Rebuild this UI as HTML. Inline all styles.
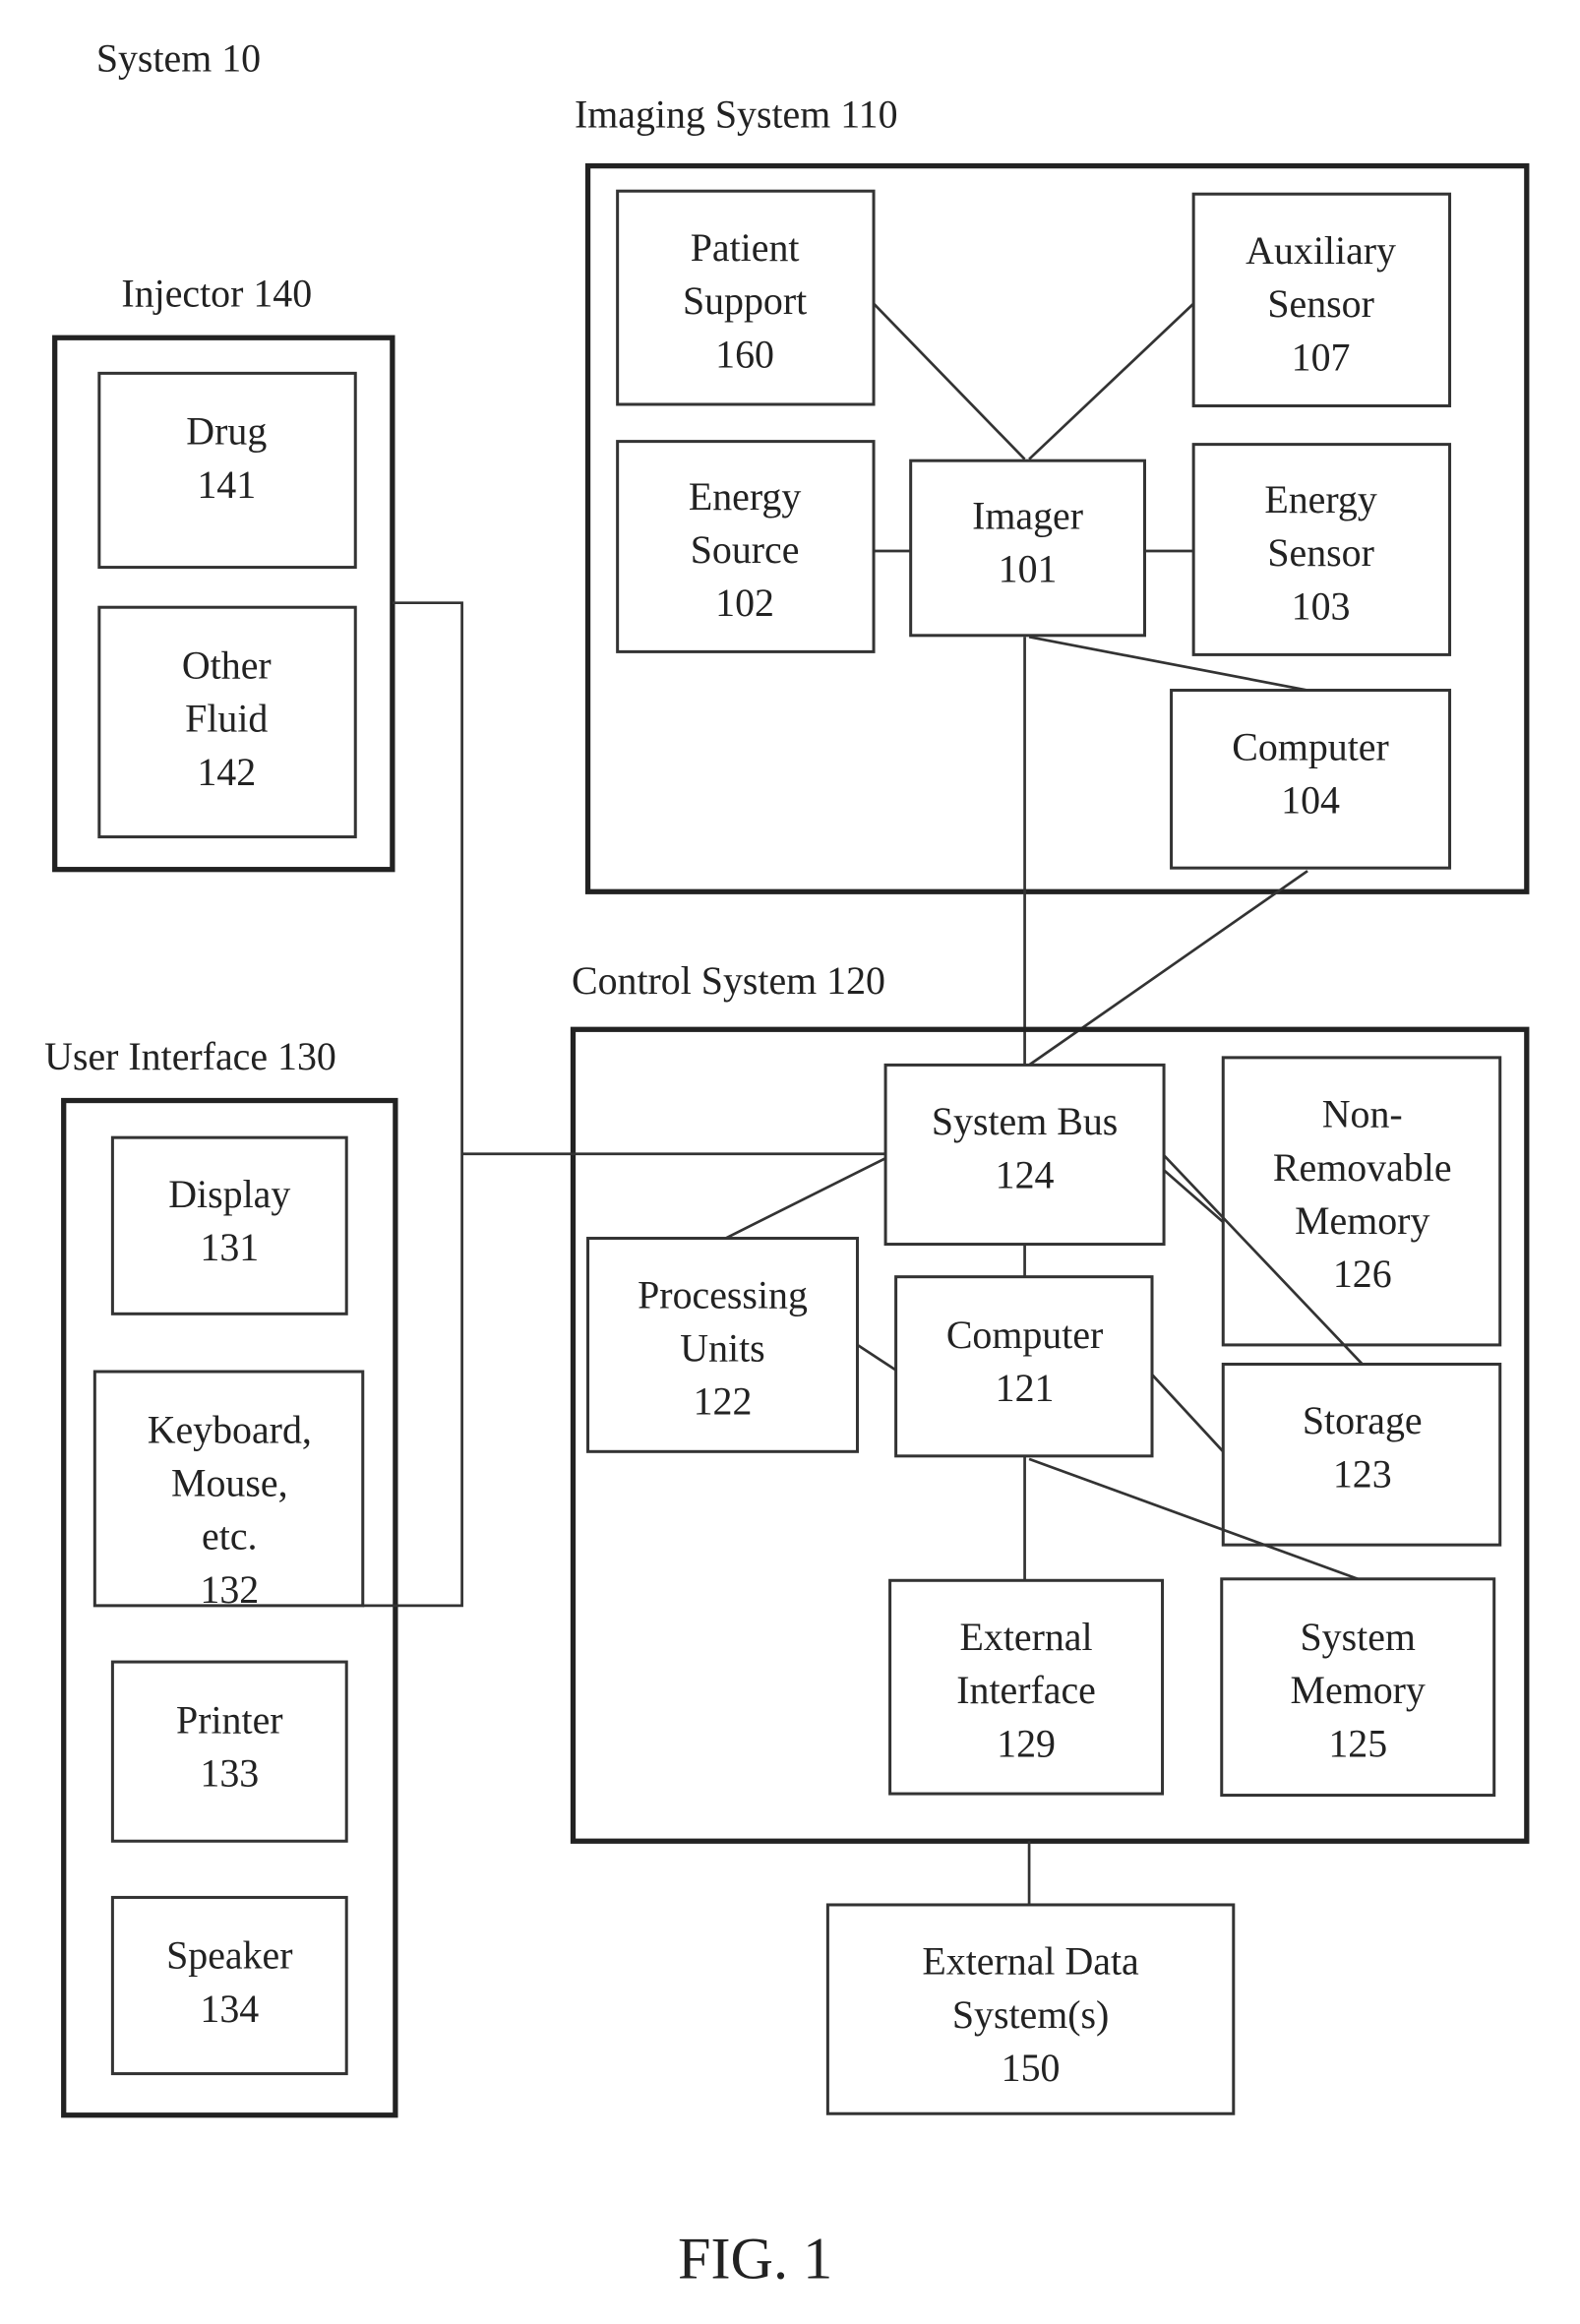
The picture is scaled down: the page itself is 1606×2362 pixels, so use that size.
<!DOCTYPE html>
<html><head><meta charset="utf-8"><style>
html,body{margin:0;padding:0;background:#fff;}
svg{display:block;}
text{font-family:"Liberation Serif",serif;fill:#222;font-size:26.5px;text-anchor:middle;}
.l{text-anchor:start;}
.b{fill:none;stroke:#333;stroke-width:2;}
.t{fill:none;stroke:#222;stroke-width:3.5;}
line,polyline{stroke:#333;stroke-width:1.8;fill:none;}
</style></head><body>
<svg width="1606" height="2362" viewBox="0 0 1067 1569" preserveAspectRatio="none" xmlns="http://www.w3.org/2000/svg">
<text class="l" x="65" y="48">System 10</text>
<text class="l" x="388" y="86">Imaging System 110</text>
<rect class="t" x="397" y="112" width="634" height="490"/>
<rect class="b" x="417" y="129" width="173" height="144"/>
<text x="503" y="176">Patient</text><text x="503" y="212">Support</text><text x="503" y="248">160</text>
<rect class="b" x="806" y="131" width="173" height="143"/>
<text x="892" y="178">Auxiliary</text><text x="892" y="214">Sensor</text><text x="892" y="250">107</text>
<rect class="b" x="417" y="298" width="173" height="142"/>
<text x="503" y="344">Energy</text><text x="503" y="380">Source</text><text x="503" y="416">102</text>
<rect class="b" x="615" y="311" width="158" height="118"/>
<text x="694" y="357">Imager</text><text x="694" y="393">101</text>
<rect class="b" x="806" y="300" width="173" height="142"/>
<text x="892" y="346">Energy</text><text x="892" y="382">Sensor</text><text x="892" y="418">103</text>
<rect class="b" x="791" y="466" width="188" height="120"/>
<text x="885" y="513">Computer</text><text x="885" y="549">104</text>
<line x1="590" y1="205" x2="692" y2="310"/>
<line x1="806" y1="205" x2="695" y2="310"/>
<line x1="590" y1="372" x2="615" y2="372"/>
<line x1="773" y1="372" x2="806" y2="372"/>
<line x1="695" y1="430" x2="883" y2="466"/>
<line x1="692" y1="430" x2="692" y2="719"/>
<line x1="883" y1="588" x2="695" y2="719"/>

<text class="l" x="82" y="207">Injector 140</text>
<rect class="t" x="37" y="228" width="228" height="359"/>
<rect class="b" x="67" y="252" width="173" height="131"/>
<text x="153" y="300">Drug</text><text x="153" y="336">141</text>
<rect class="b" x="67" y="410" width="173" height="155"/>
<text x="153" y="458">Other</text><text x="153" y="494">Fluid</text><text x="153" y="530">142</text>

<text class="l" x="386" y="671">Control  System 120</text>
<rect class="t" x="387" y="695" width="644" height="548"/>
<rect class="b" x="598" y="719" width="188" height="121"/>
<text x="692" y="766">System Bus</text><text x="692" y="802">124</text>
<rect class="b" x="826" y="714" width="187" height="194"/>
<text x="920" y="761">Non-</text><text x="920" y="797">Removable</text><text x="920" y="833">Memory</text><text x="920" y="869">126</text>
<rect class="b" x="397" y="836" width="182" height="144"/>
<text x="488" y="883">Processing</text><text x="488" y="919">Units</text><text x="488" y="955">122</text>
<rect class="b" x="605" y="862" width="173" height="121"/>
<text x="692" y="910">Computer</text><text x="692" y="946">121</text>
<rect class="b" x="826" y="921" width="187" height="122"/>
<text x="920" y="968">Storage</text><text x="920" y="1004">123</text>
<rect class="b" x="601" y="1067" width="184" height="144"/>
<text x="693" y="1114">External</text><text x="693" y="1150">Interface</text><text x="693" y="1186">129</text>
<rect class="b" x="825" y="1066" width="184" height="146"/>
<text x="917" y="1114">System</text><text x="917" y="1150">Memory</text><text x="917" y="1186">125</text>
<line x1="490" y1="836" x2="598" y2="782"/>
<line x1="786" y1="780" x2="920" y2="921"/>
<line x1="786" y1="790" x2="826" y2="825"/>
<line x1="579" y1="908" x2="605" y2="925"/>
<line x1="778" y1="928" x2="826" y2="980"/>
<line x1="692" y1="840" x2="692" y2="862"/>
<line x1="692" y1="983" x2="692" y2="1067"/>
<line x1="695" y1="985" x2="917" y2="1066"/>
<line x1="695" y1="1243" x2="695" y2="1286"/>

<rect class="b" x="559" y="1286" width="274" height="141"/>
<text x="696" y="1333">External Data</text><text x="696" y="1369">System(s)</text><text x="696" y="1405">150</text>

<text class="l" x="30" y="722">User Interface 130</text>
<rect class="t" x="43" y="743" width="224" height="685"/>
<rect class="b" x="76" y="768" width="158" height="119"/>
<text x="155" y="815">Display</text><text x="155" y="851">131</text>
<rect class="b" x="64" y="926" width="181" height="158"/>
<text x="155" y="974">Keyboard,</text><text x="155" y="1010">Mouse,</text><text x="155" y="1046">etc.</text><text x="155" y="1082">132</text>
<rect class="b" x="76" y="1122" width="158" height="121"/>
<text x="155" y="1170">Printer</text><text x="155" y="1206">133</text>
<rect class="b" x="76" y="1281" width="158" height="119"/>
<text x="155" y="1329">Speaker</text><text x="155" y="1365">134</text>

<polyline points="265,407 312,407 312,1084 245,1084"/>
<line x1="312" y1="779" x2="598" y2="779"/>

<text x="510" y="1538" style="font-size:40px">FIG. 1</text>
</svg>
</body></html>
